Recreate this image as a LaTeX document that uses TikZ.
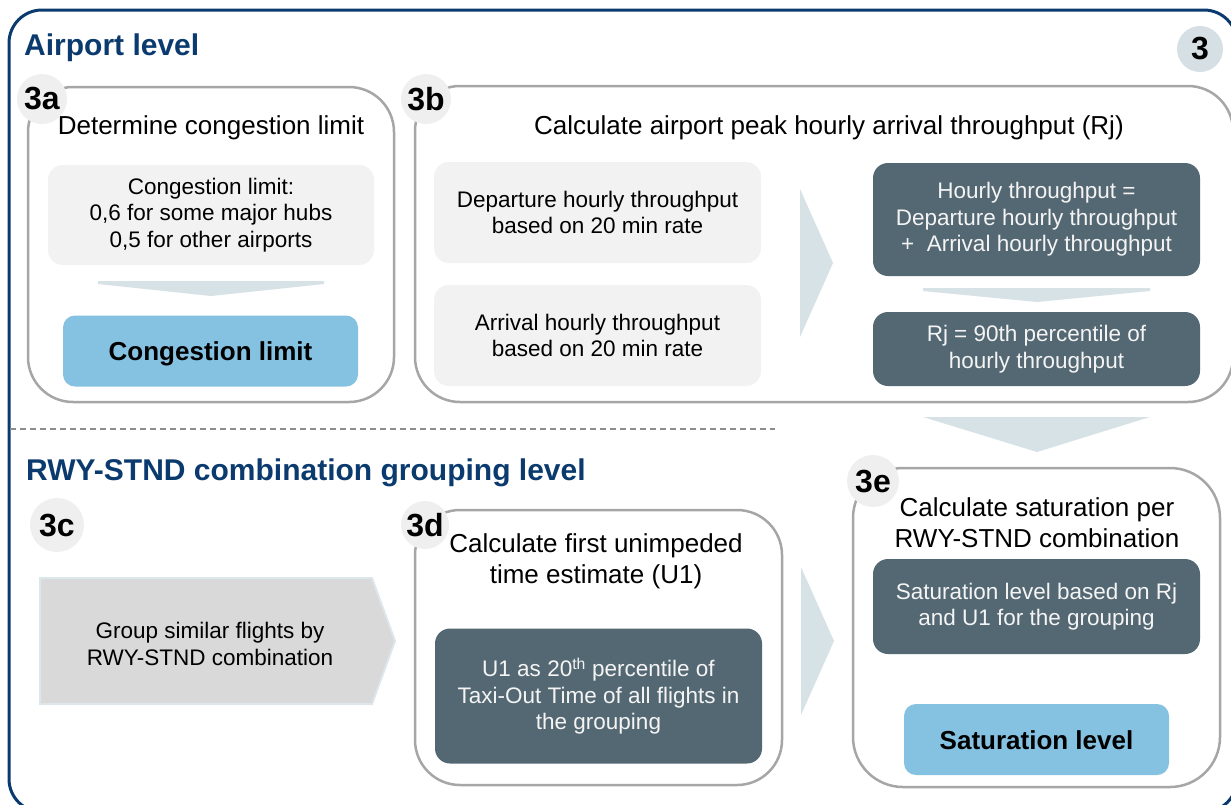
\documentclass[tikz,border=0pt]{standalone}
\usepackage{fontspec}
\setmainfont{Liberation Sans}
\definecolor{navy}{HTML}{0B3B6E}
\definecolor{boxgray}{HTML}{A6A6A6}
\definecolor{lightfill}{HTML}{F2F2F2}
\definecolor{darkslate}{HTML}{546873}
\definecolor{darktext}{HTML}{F4F4F4}
\definecolor{bluefill}{HTML}{85C1E1}
\definecolor{lblgray}{HTML}{EFEFEF}
\definecolor{chevfill}{HTML}{D7E2E6}
\definecolor{bignum}{HTML}{D6E0E4}
\definecolor{arrowfill}{HTML}{D9D9D9}
\definecolor{arrowedge}{HTML}{DCE6EB}
\definecolor{dashgray}{HTML}{8C8C8C}
\newcommand\bodyfnt{\fontsize{22.5}{26.6}\selectfont}
\newcommand\titlefnt{\fontsize{26}{30.5}\selectfont}
\newcommand\headfnt{\fontsize{30}{34}\selectfont\bfseries}
\newcommand\lblfnt{\fontsize{32}{36}\selectfont\bfseries}
\newcommand\boldfnt{\fontsize{26}{30}\selectfont\bfseries}
\begin{document}
\begin{tikzpicture}[x=1pt,y=1pt,
  grp/.style={draw=boxgray, line width=2.5pt, rounded corners=45pt, fill=white, inner sep=0pt},
  lightbox/.style={fill=lightfill, rounded corners=15pt, inner sep=0pt, align=center, font=\bodyfnt},
  darkbox/.style={fill=darkslate, rounded corners=15pt, inner sep=0pt, align=center, font=\bodyfnt, text=darktext},
  bluebox/.style={fill=bluefill, rounded corners=12pt, inner sep=0pt, font=\boldfnt, text height=19pt, text depth=0pt},
  lbl/.style={circle, fill=lblgray, inner sep=0pt, minimum size=50pt, font=\lblfnt},
  ttl/.style={anchor=base, align=center, font=\titlefnt, inner sep=0pt},
  head/.style={anchor=base west, text=navy, font=\headfnt, inner sep=0pt},
  chev/.style={fill=chevfill}]
\useasboundingbox (0,0) rectangle (1231,-804);
% outer frame
\draw[navy, line width=3pt, rounded corners=33pt] (9,-10) rectangle (1237,-812);
% headings
\node[head] (hAirport) at (24,-55) {Airport level};
\node[head] (hGroup) at (26,-480) {RWY-STND combination grouping level};
\node[circle, fill=bignum, inner sep=0pt, minimum size=46pt, font=\lblfnt] (n3) at (1200,-49) {3};
% dashed separator
\draw[dashgray, line width=1.2pt, dash pattern=on 6pt off 4pt] (10,-429) -- (775,-429);

% ---------- 3a
\node[grp, minimum width=366pt, minimum height=315pt] (b3a) at (211,-244.5) {};
\node[ttl] (t3a) at (211,-134) {Determine congestion limit};
\node[lightbox, minimum width=326pt, minimum height=100pt] (cong) at (211,-215) {Congestion limit:\\0,6 for some major hubs\\0,5 for other airports};
\path[chev] (98,-281) -- (324,-281) -- (324,-284) -- (211,-296) -- (98,-284) -- cycle;
\node[bluebox, minimum width=295pt, minimum height=71pt] (conglim) at (210.5,-351) {Congestion limit};
\node[lbl] (l3a) at (42,-99) {3a};

% ---------- 3b
\node[grp, minimum width=818pt, minimum height=316pt] (b3b) at (824,-244) {};
\node[ttl] (t3b) at (829,-134) {Calculate airport peak hourly arrival throughput (Rj)};
\node[lightbox, minimum width=327pt, minimum height=101pt] (dep) at (597.5,-212.5) {Departure hourly throughput\\based on 20 min rate};
\node[lightbox, minimum width=327pt, minimum height=101pt] (arr) at (597.5,-335.5) {Arrival hourly throughput\\based on 20 min rate};
\path[chev] (800,-189) -- (833,-263) -- (800,-337) -- cycle;
\node[darkbox, minimum width=327pt, minimum height=113pt] (hourly) at (1036.5,-219.5) {Hourly throughput =\\Departure hourly throughput\\+\ \ Arrival hourly throughput};
\path[chev] (923,-288) -- (1150,-288) -- (1150,-291) -- (1037,-302) -- (923,-291) -- cycle;
\node[darkbox, minimum width=327pt, minimum height=74pt] (rj) at (1036.5,-349) {Rj = 90th percentile of\\hourly throughput};
\node[lbl] (l3b) at (426,-99) {3b};

% big chevron down to 3e
\path[chev] (923,-417) -- (1150,-417) -- (1037,-452) -- cycle;

% ---------- 3c
\path[fill=arrowfill, draw=arrowedge, line width=2pt] (40,-578) -- (372,-578) -- (395,-641) -- (372,-704) -- (40,-704) -- cycle;
\node[align=center, font=\bodyfnt, inner sep=0pt] (grp) at (210,-644) {Group similar flights by\\RWY-STND combination};
\node[lbl, minimum size=54pt] (l3c) at (57,-525) {3c};

% ---------- 3d
\node[grp, minimum width=367pt, minimum height=275pt] (b3d) at (598.5,-647.5) {};
\node[ttl] (t3d) at (596,-583) {Calculate first unimpeded\\time estimate (U1)};
\node[darkbox, minimum width=327pt, minimum height=135pt] (u1) at (598.5,-696) {U1 as 20\textsuperscript{th} percentile of\\Taxi-Out Time of all flights in\\the grouping};
\node[lbl, minimum size=48pt] (l3d) at (425,-525) {3d};
\path[chev] (801,-567) -- (834,-641) -- (801,-715) -- cycle;

% ---------- 3e
\node[grp, minimum width=367pt, minimum height=319pt, rounded corners=50pt] (b3e) at (1036.5,-627.5) {};
\node[ttl] (t3e) at (1037,-547) {Calculate saturation per\\RWY-STND combination};
\node[darkbox, minimum width=327pt, minimum height=95pt] (satd) at (1036.5,-606.5) {Saturation level based on Rj\\and U1 for the grouping};
\node[bluebox, minimum width=265pt, minimum height=71pt] (satl) at (1036.5,-739.5) {Saturation level};
\node[lbl, minimum size=52pt] (l3e) at (873,-481) {3e};
\end{tikzpicture}
\end{document}
